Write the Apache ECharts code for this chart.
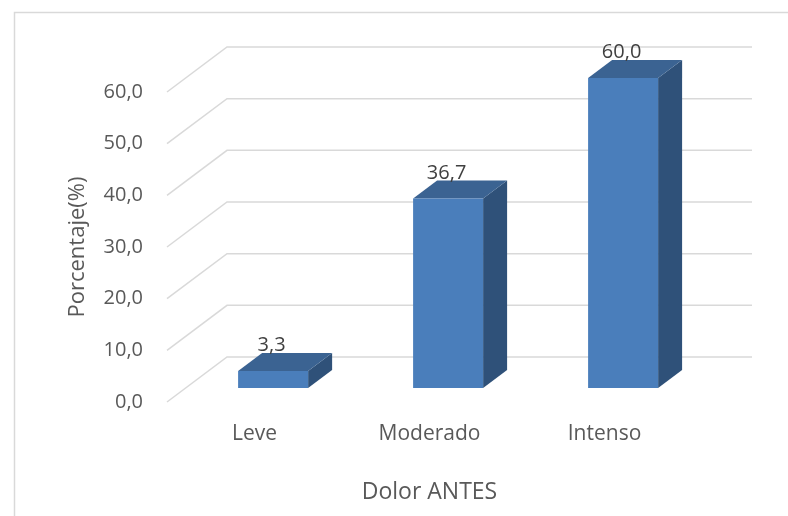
<!DOCTYPE html>
<html>
<head>
<meta charset="utf-8">
<style>
  html, body { margin: 0; padding: 0; background: #fff; }
  #chart { width: 788px; height: 516px; }
</style>
<script src="https://cdn.jsdelivr.net/npm/echarts@6/dist/echarts.min.js"></script>
</head>
<body>
<div id="chart"></div>
<script>
// Pain level before treatment, share of patients
const categories = ['Leve', 'Moderado', 'Intenso'];
const values = [3.3, 36.7, 60.0];
const yTicks = [0, 10, 20, 30, 40, 50, 60];

// Pseudo-3D depth of the plot box (front plane to back wall)
const DEPTH_X = 60;
const DEPTH_Y = 45;
// Where each bar sits inside that depth (fractions front -> back)
const BAR_DEPTH_START = 0.31;
const BAR_DEPTH_END = 0.71;
const BAR_WIDTH_RATIO = 0.4;

const FONT = '"Open Sans", sans-serif';
const TEXT_COLOR = '#595959';
const GRID_COLOR = '#d9d9d9';

const fmt = v => v.toFixed(1).replace('.', ',');

const chart = echarts.init(document.getElementById('chart'), null, { renderer: 'canvas' });

function renderGridLine(params, api) {
  const cs = params.coordSys;
  const y = api.coord([0, api.value(1)])[1];
  return {
    type: 'polyline',
    shape: {
      points: [
        [cs.x, y],
        [cs.x + DEPTH_X, y - DEPTH_Y],
        [cs.x + cs.width + DEPTH_X, y - DEPTH_Y]
      ]
    },
    style: { stroke: GRID_COLOR, lineWidth: 1.5, fill: null },
    silent: true
  };
}

function renderBar(params, api) {
  const idx = api.value(0);
  const val = api.value(1);
  const top = api.coord([idx, val]);
  const base = api.coord([idx, 0]);
  const band = api.size([1, 0])[0];
  const w = band * BAR_WIDTH_RATIO;
  const fx = DEPTH_X * BAR_DEPTH_START;
  const fy = DEPTH_Y * BAR_DEPTH_START;
  const dx = DEPTH_X * (BAR_DEPTH_END - BAR_DEPTH_START);
  const dy = DEPTH_Y * (BAR_DEPTH_END - BAR_DEPTH_START);
  const L = top[0] - w / 2 + fx;
  const R = L + w;
  const T = top[1] - fy;
  const B = base[1] - fy;
  return {
    type: 'group',
    children: [
      {
        type: 'polygon',
        shape: { points: [[R, T], [R + dx, T - dy], [R + dx, B - dy], [R, B]] },
        style: { fill: '#2F5179' }
      },
      {
        type: 'polygon',
        shape: { points: [[L, T], [R, T], [R + dx, T - dy], [L + dx, T - dy]] },
        style: { fill: '#3B6392' }
      },
      {
        type: 'rect',
        shape: { x: L, y: T, width: w, height: B - T },
        style: { fill: '#4A7EBB' }
      },
      {
        type: 'text',
        x: (L + R) / 2 - 1.5,
        y: T - dy - 7.5,
        style: {
          text: fmt(val),
          fill: '#404040',
          font: '20px ' + FONT,
          align: 'center',
          verticalAlign: 'middle'
        }
      }
    ]
  };
}

chart.setOption({
  animation: false,
  backgroundColor: '#ffffff',
  textStyle: { fontFamily: FONT },
  graphic: [{
    type: 'rect',
    left: 12, top: 10,
    shape: { width: 800, height: 520 },
    style: { fill: null, stroke: GRID_COLOR, lineWidth: 1.5 },
    silent: true
  }],
  grid: { left: 167, right: 96, top: 92, bottom: 114 },
  xAxis: {
    type: 'category',
    data: categories,
    axisLine: { show: false },
    axisTick: { show: false },
    axisLabel: { color: TEXT_COLOR, fontSize: 21, fontFamily: FONT, margin: 22 },
    name: 'Dolor ANTES',
    nameLocation: 'middle',
    nameGap: 79,
    nameTextStyle: { color: TEXT_COLOR, fontSize: 23, fontFamily: FONT }
  },
  yAxis: {
    type: 'value',
    min: 0, max: 60, interval: 10,
    axisLine: { show: false },
    axisTick: { show: false },
    splitLine: { show: false },
    axisLabel: { color: TEXT_COLOR, fontSize: 20, fontFamily: FONT, margin: 24, formatter: fmt },
    name: 'Porcentaje(%)',
    nameLocation: 'middle',
    nameGap: 78,
    nameTextStyle: { color: TEXT_COLOR, fontSize: 22, fontFamily: FONT }
  },
  series: [
    {
      type: 'custom',
      renderItem: renderGridLine,
      data: yTicks.map(v => [0, v]),
      z: 1,
      silent: true
    },
    {
      type: 'custom',
      renderItem: renderBar,
      data: values.map((v, i) => [i, v]),
      z: 2
    }
  ]
});
</script>
</body>
</html>
